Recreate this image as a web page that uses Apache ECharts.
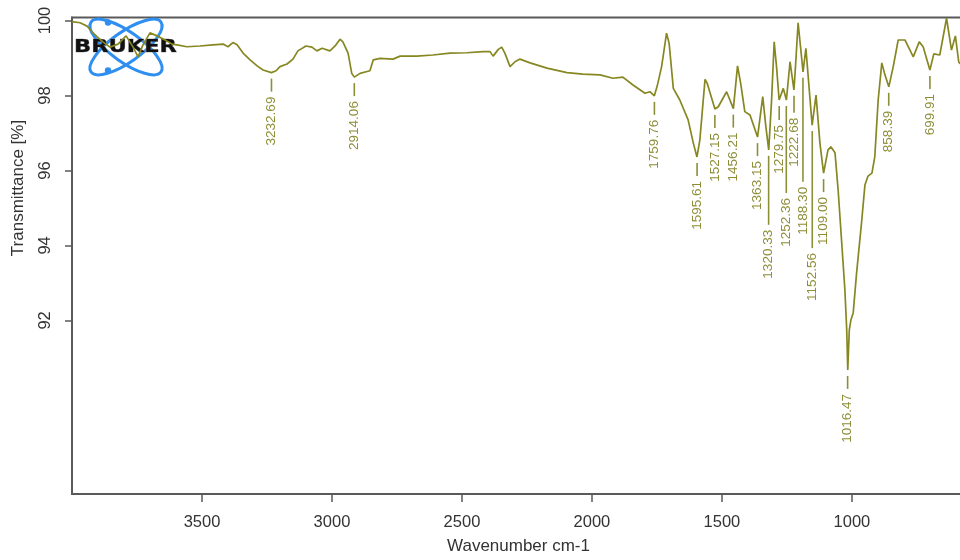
<!DOCTYPE html>
<html>
<head>
<meta charset="utf-8">
<script src="https://cdn.jsdelivr.net/npm/echarts@6/dist/echarts.min.js"></script>
<style>
html,body{margin:0;padding:0;background:#fff;}
#chart{width:960px;height:560px;}
</style>
</head>
<body>
<div id="chart"></div>
<script>
// ---- Spectrum (wavenumber cm-1, transmittance %) ----
const wavenumbers = [4000,3969,3942,3923,3904,3881,3854,3823,3792,3765,3746,3727,3700,3673,3642,3615,3596,3558,3508,3458,3419,3400,3381,3365,3342,3315,3288,3265,3233,3215,3200,3173,3150,3131,3100,3077,3058,3038,3008,2988,2969,2958,2938,2924,2914,2892,2865,2854,2841,2815,2765,2738,2673,2612,2546,2481,2419,2392,2380,2360,2347,2335,2315,2296,2277,2238,2173,2096,2035,1969,1919,1881,1842,1796,1777,1760,1749,1732,1713,1703,1687,1662,1630,1610,1596,1585,1565,1557,1527,1514,1482,1456,1440,1428,1412,1392,1363,1343,1331,1320,1309,1299,1290,1280,1264,1252,1238,1223,1217,1207,1188,1177,1153,1138,1123,1109,1092,1081,1065,1053,1040,1027,1020,1016,1010,1004,995,982,963,950,938,923,912,899,885,873,858,841,822,796,764,741,726,700,685,662,636,617,602,589,565];
const transmittance = [99.97,99.94,99.85,99.70,99.57,99.43,99.29,99.37,99.59,99.29,99.03,99.35,99.67,99.59,99.48,99.37,99.35,99.30,99.32,99.35,99.37,99.30,99.41,99.35,99.13,98.95,98.79,98.68,98.61,98.66,98.77,98.84,98.97,99.19,99.32,99.29,99.19,99.26,99.19,99.32,99.50,99.43,99.13,98.59,98.49,98.59,98.64,98.66,98.95,98.99,98.97,99.05,99.05,99.08,99.13,99.14,99.17,99.17,99.05,99.23,99.29,99.13,98.77,98.90,98.97,98.87,98.73,98.61,98.57,98.55,98.46,98.49,98.28,98.06,98.10,97.99,98.25,98.77,99.66,99.39,98.19,97.88,97.35,96.73,96.36,96.81,98.43,98.33,97.64,97.70,98.10,97.65,98.79,98.33,97.57,97.48,96.89,97.97,97.17,96.55,97.88,99.43,98.77,97.88,98.19,97.88,98.90,98.15,98.77,99.94,98.63,99.26,97.21,98.01,96.73,95.93,96.55,96.63,96.47,95.48,94.15,92.81,91.75,90.68,91.75,92.01,92.20,93.27,94.60,95.61,95.85,95.93,96.36,97.88,98.87,98.55,98.23,98.77,99.48,99.48,99.03,99.43,99.30,98.68,99.11,99.08,100.06,99.21,99.59,98.89,98.73];

// ---- Peak picks ----
const peakWavenumbers = [3232.69,2914.06,1759.76,1595.61,1527.15,1456.21,1363.15,1320.33,1279.75,1252.36,1222.68,1188.30,1152.56,1109.00,1016.47,858.39,699.91];
const peakTransmittance = [98.61,98.49,97.99,96.36,97.64,97.65,96.89,96.55,97.88,97.88,98.15,98.63,97.21,95.93,90.68,98.23,98.68];

// ---- Axis ticks ----
const xTickValues = [3500,3000,2500,2000,1500,1000];
const yTickValues = [92,94,96,98,100];

// ---- layout (pixel leader lengths for staggered labels) ----
const DEFAULT_LEADER = 13;
const leaderLength = {'1320.33':69,'1252.36':87,'1188.30':104,'1152.56':117,'1222.68':17,'1279.75':14};

const OLIVE = '#878722';
const LABEL_OLIVE = '#8e8e38';
const FRAME = '#5a5a5a';
const FONT = '"Liberation Sans", Arial, sans-serif';

const spectrum = wavenumbers.map((w,i)=>[w, transmittance[i]]);
const peaks = peakWavenumbers.map((w,i)=>[w, peakTransmittance[i]]);

const chart = echarts.init(document.getElementById('chart'), null, {renderer:'canvas'});
chart.setOption({
  animation:false,
  backgroundColor:'#fff',
  grid:{left:72, top:17.5, right:-5, bottom:66, show:true, borderColor:FRAME, borderWidth:1.8, containLabel:false, outerBoundsMode:'none'},
  xAxis:{
    type:'value', inverse:true, min:565, max:4000,
    name:'Wavenumber cm-1', nameLocation:'middle', nameGap:44,
    nameTextStyle:{fontSize:17, color:'#333', fontFamily:FONT},
    axisLine:{show:true, onZero:false, lineStyle:{color:FRAME, width:1.8}},
    axisTick:{show:true, length:8, customValues:xTickValues, lineStyle:{color:FRAME, width:1.5}},
    axisLabel:{customValues:xTickValues, margin:20, fontSize:16.5, color:'#333', fontFamily:FONT,
               formatter:function(v){ return String(v); }},
    splitLine:{show:false}
  },
  yAxis:{
    type:'value', min:87.37, max:100.08,
    axisLine:{show:true, onZero:false, lineStyle:{color:FRAME, width:1.8}},
    axisTick:{show:true, length:7, customValues:yTickValues, lineStyle:{color:FRAME, width:1.5}},
    axisLabel:{customValues:yTickValues, rotate:90, margin:18, fontSize:16.5, color:'#333', fontFamily:FONT,
               formatter:function(v){ return String(v); }},
    splitLine:{show:false}
  },
  graphic:[
    {type:'text', x:18, y:188, rotation:Math.PI/2, z:50,
     style:{text:'Transmittance [%]', fontSize:17, fontFamily:FONT, fill:'#333', align:'center', verticalAlign:'middle'}},
    {type:'group', z:100, children:[
      {type:'ellipse', x:126, y:47, rotation:-0.62, shape:{cx:0, cy:0, rx:43, ry:15},
       style:{fill:'none', stroke:'#2f8ff0', lineWidth:3}},
      {type:'ellipse', x:126, y:47, rotation:0.62, shape:{cx:0, cy:0, rx:43, ry:15},
       style:{fill:'none', stroke:'#2f8ff0', lineWidth:3}},
      {type:'circle', shape:{cx:108, cy:22.5, r:3.2}, style:{fill:'#2f8ff0'}},
      {type:'circle', shape:{cx:108, cy:70.5, r:3.2}, style:{fill:'#2f8ff0'}},
      {type:'text', x:74, y:47, scaleX:1.25,
       style:{text:'BRUKER', fontSize:18, fontWeight:'bold', fontFamily:'"DejaVu Sans", sans-serif', fill:'#111', align:'left', verticalAlign:'middle', stroke:'#777', lineWidth:0.6}}
    ]}
  ],
  series:[
    {type:'line', data:spectrum, showSymbol:false, symbol:'none', smooth:false,
     lineStyle:{color:OLIVE, width:1.7}, z:5, silent:true},
    {type:'custom', data:peaks, z:6, silent:true,
     renderItem:function(params, api){
       const p = api.coord([api.value(0), api.value(1)]);
       const lbl = peakWavenumbers[params.dataIndex].toFixed(2);
       const len = leaderLength[lbl] || DEFAULT_LEADER;
       const y0 = p[1] + 6, y1 = y0 + len;
       return {type:'group', children:[
         {type:'line', shape:{x1:p[0], y1:y0, x2:p[0], y2:y1}, style:{stroke:LABEL_OLIVE, lineWidth:1.6}},
         {type:'text', x:p[0], y:y1 + 5, rotation:Math.PI/2,
          style:{text:lbl, fontSize:13.5, fontFamily:FONT, fill:LABEL_OLIVE, align:'right', verticalAlign:'middle'}}
       ]};
     }}
  ]
});
</script>
</body>
</html>
